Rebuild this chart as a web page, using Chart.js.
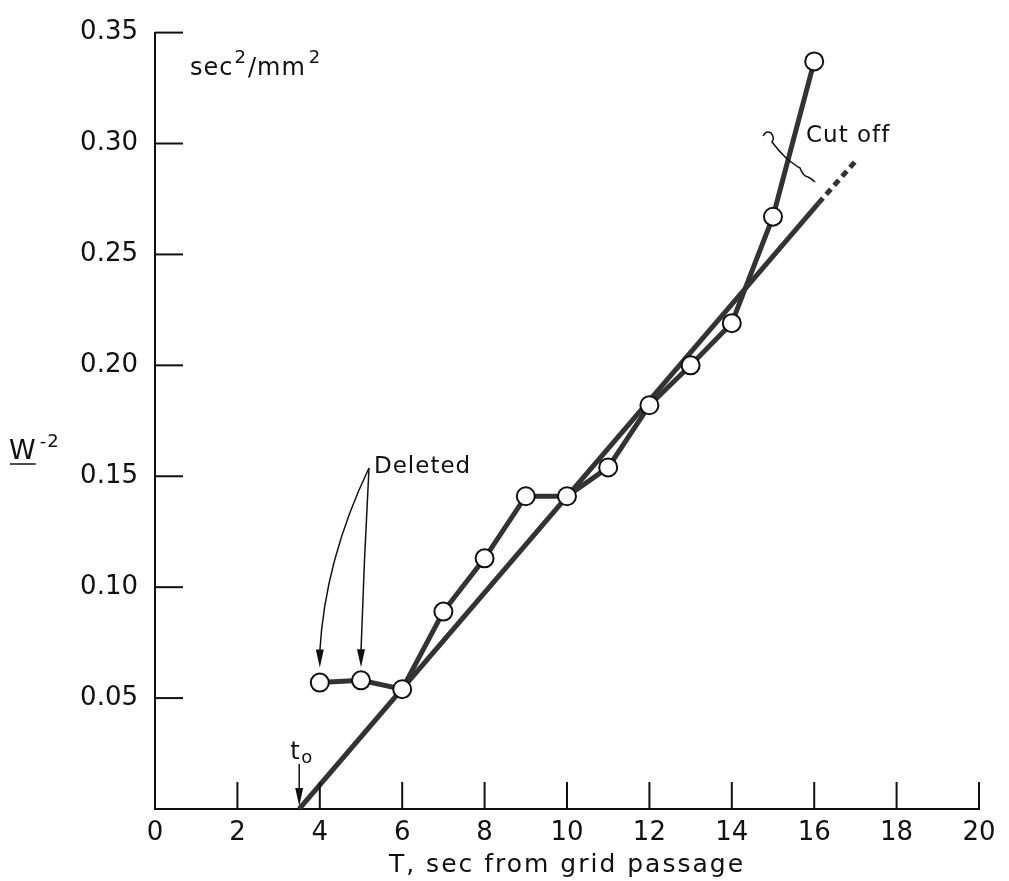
<!DOCTYPE html>
<html>
<head>
<meta charset="utf-8">
<script src="https://cdn.jsdelivr.net/npm/chart.js@4"></script>
<style>
  html, body { margin: 0; padding: 0; background: #fff; }
  canvas { display: block; }
</style>
</head>
<body>
<canvas id="chart" width="1009" height="881"></canvas>
<script>
// observed points, T (sec) vs W^-2
const tValues = [4, 5, 6, 7, 8, 9, 10, 11, 12, 13, 14, 15, 16];
const wValues = [0.057, 0.058, 0.054, 0.089, 0.113, 0.141, 0.141, 0.154, 0.182, 0.200, 0.219, 0.267, 0.337];

// fitted straight line and its dashed extension past cut off
const fitT = [3.5, 16.1];
const fitW = [0, 0.273];
const dashT = [16.1, 17.05];
const dashW = [0.273, 0.293];

const xTicks = [0, 2, 4, 6, 8, 10, 12, 14, 16, 18, 20];
const xTickLabels = ['0', '2', '4', '6', '8', '10', '12', '14', '16', '18', '20'];
const yTicks = [0.05, 0.10, 0.15, 0.20, 0.25, 0.30, 0.35];
const yTickLabels = ['0.05', '0.10', '0.15', '0.20', '0.25', '0.30', '0.35'];

const ink = '#111';
const lineCol = '#333';
const font = '"DejaVu Sans", sans-serif';

function toXY(xs, ys) {
  return xs.map((v, i) => ({ x: v, y: ys[i] }));
}

function seg(ctx, x1, y1, x2, y2) {
  ctx.beginPath();
  ctx.moveTo(x1, y1);
  ctx.lineTo(x2, y2);
  ctx.stroke();
}

function arrowHead(ctx, tx, ty, angle) {
  // narrow filled head pointing along angle, tip at (tx,ty)
  const len = 18, half = 4;
  ctx.save();
  ctx.translate(tx, ty);
  ctx.rotate(angle);
  ctx.beginPath();
  ctx.moveTo(0, 0);
  ctx.lineTo(-len, -half);
  ctx.lineTo(-len, half);
  ctx.closePath();
  ctx.fill();
  ctx.restore();
}

const annot = {
  id: 'annot',
  afterDraw(chart) {
    const { ctx, chartArea: a } = chart;
    const x = chart.scales.x, y = chart.scales.y;
    ctx.save();
    ctx.strokeStyle = ink;
    ctx.fillStyle = ink;
    ctx.lineWidth = 2;

    // ticks pointing into the plot
    yTicks.forEach(v => {
      const py = y.getPixelForValue(v);
      seg(ctx, a.left, py, a.left + 28, py);
    });
    xTicks.slice(1).forEach(v => {
      const px = x.getPixelForValue(v);
      seg(ctx, px, a.bottom, px, a.bottom - 27);
    });

    ctx.textBaseline = 'alphabetic';
    ctx.textAlign = 'left';
    ctx.letterSpacing = '1px';

    // units
    let px = 190;
    ctx.font = '24px ' + font;
    ctx.fillText('sec', px, 75); px += ctx.measureText('sec').width + 1;
    ctx.font = '18px ' + font;
    ctx.fillText('2', px, 63); px += ctx.measureText('2').width + 1;
    ctx.font = '24px ' + font;
    ctx.fillText('/mm', px, 75); px += ctx.measureText('/mm').width + 3;
    ctx.font = '18px ' + font;
    ctx.fillText('2', px, 63);

    // y axis name
    ctx.font = '27px ' + font;
    ctx.fillText('W', 9, 459);
    const ww = ctx.measureText('W').width;
    ctx.lineWidth = 1.5;
    seg(ctx, 10, 464, 8 + ww, 464);
    ctx.font = '18px ' + font;
    ctx.fillText('-2', 9 + ww + 3, 447);

    // Deleted note with two arrows
    ctx.font = '23px ' + font;
    ctx.fillText('Deleted', 374, 473);
    const p4x = x.getPixelForValue(tValues[0]), p4y = y.getPixelForValue(wValues[0]) - 15;
    const p5x = x.getPixelForValue(tValues[1]), p5y = y.getPixelForValue(wValues[1]) - 13;
    ctx.lineWidth = 1.5;
    ctx.beginPath();
    ctx.moveTo(369, 468);
    ctx.quadraticCurveTo(325, 560, p4x, p4y - 16);
    ctx.stroke();
    arrowHead(ctx, p4x, p4y, Math.PI / 2);
    ctx.beginPath();
    ctx.moveTo(369, 468);
    ctx.quadraticCurveTo(364, 560, p5x, p5y - 16);
    ctx.stroke();
    arrowHead(ctx, p5x, p5y, Math.PI / 2);

    // t0 marker
    const t0x = x.getPixelForValue(fitT[0]);
    ctx.font = '24px ' + font;
    ctx.fillText('t', t0x - 9, 759);
    ctx.font = '18px ' + font;
    ctx.fillText('o', t0x + 2, 763);
    ctx.lineWidth = 1.5;
    seg(ctx, t0x, 764, t0x, a.bottom - 16);
    arrowHead(ctx, t0x, a.bottom - 3, Math.PI / 2);

    // cut off note and squiggle
    ctx.font = '23px ' + font;
    ctx.fillText('Cut off', 806, 142);
    ctx.lineWidth = 1.5;
    ctx.beginPath();
    ctx.moveTo(763, 136);
    ctx.quadraticCurveTo(766, 130, 771, 133);
    ctx.quadraticCurveTo(775, 138, 772, 142);
    ctx.quadraticCurveTo(778, 150, 786, 158);
    ctx.quadraticCurveTo(796, 166, 800, 168);
    ctx.quadraticCurveTo(803, 176, 808, 177);
    ctx.quadraticCurveTo(812, 179, 815, 182);
    ctx.stroke();

    // x axis name
    ctx.font = '25px ' + font;
    ctx.letterSpacing = '2px';
    ctx.textAlign = 'center';
    ctx.fillText('T, sec from grid passage', (a.left + a.right) / 2, 872);

    ctx.restore();
  }
};

new Chart(document.getElementById('chart'), {
  type: 'line',
  data: {
    datasets: [
      {
        label: 'fit',
        data: toXY(fitT, fitW),
        borderColor: lineCol,
        borderWidth: 5,
        pointRadius: 0,
        tension: 0,
        order: 3
      },
      {
        label: 'fit extension',
        data: toXY(dashT, dashW),
        borderColor: lineCol,
        borderWidth: 5,
        borderDash: [7, 5],
        pointRadius: 0,
        tension: 0,
        order: 2
      },
      {
        label: 'observed',
        data: toXY(tValues, wValues),
        borderColor: lineCol,
        borderWidth: 5,
        pointRadius: 9,
        pointBackgroundColor: '#fff',
        pointBorderColor: ink,
        pointBorderWidth: 2,
        tension: 0,
        order: 1
      }
    ]
  },
  options: {
    responsive: false,
    animation: false,
    devicePixelRatio: 1,
    layout: { padding: { left: 0, top: 13, right: 30, bottom: 0 } },
    plugins: {
      legend: { display: false },
      tooltip: { enabled: false }
    },
    scales: {
      x: {
        type: 'linear',
        min: 0,
        max: 20,
        afterBuildTicks: s => { s.ticks = xTicks.map(v => ({ value: v })); },
        afterFit: s => { s.height = 72; },
        grid: { drawOnChartArea: false, drawTicks: false },
        border: { display: true, color: ink, width: 2 },
        ticks: {
          padding: 9,
          color: ink,
          font: { family: font, size: 26 },
          callback: (v, i) => xTickLabels[i]
        }
      },
      y: {
        type: 'linear',
        min: 0,
        max: 0.35,
        afterBuildTicks: s => { s.ticks = yTicks.map(v => ({ value: v })); },
        afterFit: s => { s.width = 155; },
        grid: { drawOnChartArea: false, drawTicks: false },
        border: { display: true, color: ink, width: 2 },
        ticks: {
          padding: 17,
          color: ink,
          font: { family: font, size: 26 },
          callback: (v, i) => yTickLabels[i]
        }
      }
    }
  },
  plugins: [annot]
});
</script>
</body>
</html>
